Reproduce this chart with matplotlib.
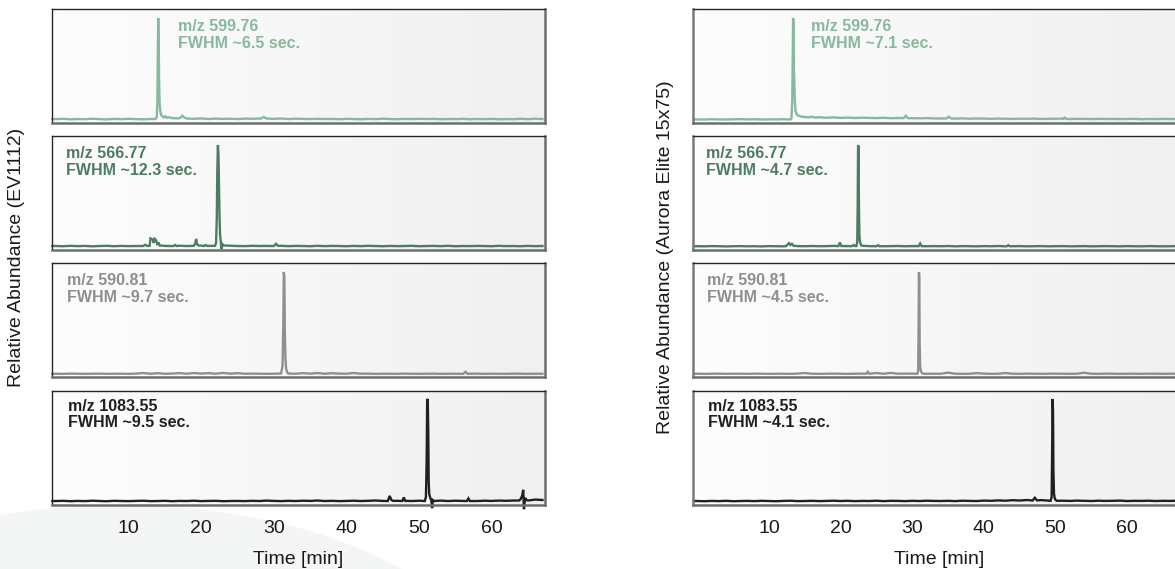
import numpy as np
import matplotlib.pyplot as plt
from matplotlib.colors import LinearSegmentedColormap
from matplotlib.patches import Ellipse

plt.rcParams['font.family'] = ['Liberation Sans', 'DejaVu Sans']

# ---- data: baseline read every minute (t = 0..67), peaks as (time, intensity) ----
# left column: EV1112
ev_599_noise = [0.9, 1.2, 0.7, 1.0, 0.8, 1.3, 0.9, 0.6, 1.1, 0.8, 1.2, 0.9, 0.7, 1.0, 0.9, 2.4, 1.9,
                1.8, 1.5, 1.2, 1.6, 1.0, 1.4, 1.1, 1.3, 0.9, 1.4, 1.2, 1.5, 1.6, 1.2, 1.5, 1.0, 1.3,
                1.1, 0.9, 1.2, 1.0, 1.1, 0.8, 1.2, 1.0, 0.8, 1.1, 0.9, 1.3, 1.0, 0.8, 1.1, 0.9, 1.2,
                1.0, 1.1, 0.8, 1.0, 0.9, 1.2, 0.8, 1.0, 0.9, 1.1, 0.7, 1.0, 0.8, 1.2, 0.9, 1.3, 1.0]
ev_599_peaks = [[(-0.5, 0.9)],
                [(13.7, 1.0), (13.88, 3), (13.97, 20), (14.03, 70), (14.08, 100), (14.14, 80),
                 (14.2, 38), (14.27, 16), (14.36, 9), (14.48, 5), (14.65, 3.5), (14.85, 2.5),
                 (15.05, 3.8), (15.3, 2.2), (15.6, 2.8), (15.9, 2.0)],
                [(16.9, 1.6), (17.2, 2.5), (17.4, 4.2), (17.6, 2.8), (17.9, 1.8)],
                [(28.2, 1.3), (28.6, 3.0), (29.0, 1.5)]]

ev_566_noise = [1.0, 0.8, 1.2, 0.9, 1.1, 0.7, 1.0, 1.2, 0.8, 1.1, 0.9, 1.0, 1.1, 1.2, 1.3, 1.1, 1.0,
                1.3, 1.0, 1.2, 1.4, 1.1, 1.2, 1.1, 1.3, 1.0, 0.9, 1.2, 1.0, 1.1, 1.3, 1.2, 0.9, 1.1,
                1.0, 0.8, 1.2, 0.9, 1.1, 1.0, 0.8, 1.1, 0.9, 1.2, 1.0, 0.8, 1.1, 0.9, 1.0, 1.2, 0.8,
                1.0, 1.1, 0.9, 1.2, 0.8, 1.0, 0.9, 1.1, 1.0, 0.8, 1.2, 0.9, 1.0, 0.8, 1.1, 0.9, 1.0]
ev_566_peaks = [[(-0.5, 1.0)],
                [(12.0, 1.0), (12.3, 2.2), (12.6, 1.0)],
                [(12.9, 1.2), (13.0, 8.5), (13.3, 7.5), (13.45, 4), (13.6, 8), (13.8, 6.5),
                 (13.95, 2), (14.1, 4.5), (14.3, 1.5)],
                [(16.2, 1.0), (16.4, 2.0), (16.6, 1.0)],
                [(19.0, 1.2), (19.2, 4), (19.3, 8), (19.45, 2.5), (19.7, 1.4)],
                [(20.4, 1.0), (20.6, 2.0), (20.8, 1.1)],
                [(21.9, 1.2), (22.05, 4), (22.15, 30), (22.22, 75), (22.3, 100), (22.38, 90),
                 (22.45, 60), (22.52, 30), (22.6, 12), (22.7, 5), (22.8, -2), (22.9, 3), (23.1, 1.5)],
                [(30.0, 1.0), (30.3, 3.2), (30.6, 1.1)]]

ev_590_noise = [0.3, 0.2, 0.4, 0.3, 0.2, 0.3, 0.4, 0.2, 0.3, 0.3, 0.2, 0.4, 1.0, 0.3, 0.8, 0.3, 0.4,
                0.9, 0.3, 1.0, 0.4, 0.9, 0.3, 1.1, 0.4, 0.8, 0.3, 0.4, 0.3, 0.2, 0.3, 0.4, 1.0, 0.3,
                0.9, 0.4, 1.0, 0.3, 0.8, 0.4, 0.3, 1.0, 0.3, 0.4, 0.2, 0.3, 0.3, 0.2, 0.4, 0.3, 0.2,
                0.3, 0.4, 0.2, 0.3, 0.3, 0.2, 0.3, 0.4, 0.2, 0.3, 0.3, 0.2, 0.4, 0.3, 0.2, 0.3, 0.3]
ev_590_peaks = [[(-0.5, 0.3)],
                [(31.0, 0.5), (31.2, 8), (31.3, 45), (31.38, 100), (31.45, 95), (31.52, 40),
                 (31.6, 15), (31.7, 5), (31.85, 1.5), (32.0, 0.5)],
                [(56.1, 0.3), (56.4, 2.2), (56.7, 0.3)]]

ev_1083_noise = [1.0, 1.2, 0.8, 1.1, 0.9, 1.3, 1.0, 0.8, 1.2, 1.0, 0.9, 1.1, 1.3, 0.9, 1.0, 1.2, 0.8,
                 1.1, 1.0, 1.3, 0.9, 1.1, 1.2, 0.8, 1.0, 1.1, 0.9, 1.2, 1.0, 1.4, 1.1, 0.9, 1.2, 1.0,
                 1.3, 1.1, 1.5, 1.0, 1.2, 0.9, 1.1, 1.3, 1.0, 1.2, 1.5, 1.1, 1.6, 1.2, 1.4, 1.0, 1.3,
                 1.2, 1.1, 1.4, 1.0, 1.3, 1.1, 1.2, 1.0, 1.3, 1.1, 1.4, 1.2, 1.5, 2.2, 1.8, 2.4, 2.0]
ev_1083_peaks = [[(-0.5, 1.0)],
                 [(45.7, 1.0), (45.95, 6), (46.2, 2), (46.4, 1.2)],
                 [(47.7, 1.0), (47.9, 4.5), (48.1, 1.2)],
                 [(50.8, 1.0), (50.95, 5), (51.05, 40), (51.12, 100), (51.2, 101), (51.27, 70),
                  (51.33, 20), (51.4, 8), (51.55, 4), (51.7, 1.5), (51.8, -6), (51.9, 2), (52.1, 1)],
                 [(56.6, 1.0), (56.8, 3.5), (57.0, 1.0)],
                 [(63.8, 1.5), (64.0, 3), (64.2, 6), (64.35, 12), (64.45, -7), (64.6, 4),
                  (64.8, 2), (65.0, 1.5)]]

# right column: Aurora Elite 15x75
au_599_noise = [0.6, 0.5, 0.8, 0.6, 0.5, 0.7, 0.9, 0.6, 0.8, 0.5, 0.7, 0.6, 0.8, 0.6, 2.0, 2.0, 2.0,
                2.4, 2.2, 2.6, 2.1, 2.4, 2.0, 2.3, 2.1, 1.9, 2.2, 1.8, 2.0, 1.9, 1.8, 1.7, 1.9, 1.6,
                1.5, 1.7, 1.4, 1.6, 1.3, 1.5, 1.4, 1.2, 1.4, 1.3, 1.1, 1.3, 1.2, 1.4, 1.1, 1.2, 1.3,
                1.4, 1.0, 1.2, 1.1, 0.9, 1.2, 1.0, 1.1, 0.9, 1.0, 1.2, 0.8, 1.0, 0.9, 1.1, 1.0, 0.9]
au_599_peaks = [[(-0.5, 0.6)],
                [(13.0, 0.5), (13.15, 2), (13.25, 20), (13.32, 60), (13.37, 100), (13.43, 95),
                 (13.48, 50), (13.53, 40), (13.6, 20), (13.7, 9), (13.85, 6), (14.0, 4.5),
                 (14.3, 4), (14.6, 3.2), (15.0, 3.0), (15.5, 2.6), (16.0, 3.2), (16.5, 2.4), (17.0, 2.8)],
                [(28.8, 1.9), (29.1, 4.2), (29.4, 1.8)],
                [(34.8, 1.6), (35.1, 3.2), (35.4, 1.6)],
                [(51.1, 1.2), (51.3, 2.4), (51.5, 1.1)]]

au_566_noise = [0.8, 0.7, 0.9, 0.8, 0.6, 0.8, 0.9, 0.7, 0.8, 0.6, 0.9, 0.8, 0.7, 1.0, 0.9, 0.8, 1.0,
                0.8, 0.9, 1.1, 0.8, 0.9, 0.8, 1.0, 0.9, 1.2, 0.8, 0.9, 1.0, 0.8, 0.9, 0.7, 0.8, 0.9,
                0.8, 1.0, 0.7, 0.9, 0.8, 0.7, 0.9, 0.8, 1.0, 0.7, 0.8, 0.9, 0.7, 0.8, 0.9, 0.7, 0.8,
                0.9, 0.7, 0.8, 0.9, 0.7, 0.8, 0.9, 0.8, 0.7, 0.9, 0.8, 0.7, 0.9, 0.8, 0.7, 0.8, 0.9]
au_566_peaks = [[(-0.5, 0.8)],
                [(12.4, 0.9), (12.6, 2.5), (12.8, 3.8), (13.0, 2.0), (13.2, 3.2), (13.45, 1.2)],
                [(19.7, 0.9), (19.9, 4.5), (20.1, 1.0)],
                [(21.6, 0.9), (21.8, 2.0), (22.0, 1.0)],
                [(22.2, 1.0), (22.32, 5), (22.38, 40), (22.44, 100), (22.5, 98), (22.56, 40),
                 (22.62, 12), (22.7, 5), (22.8, 3), (22.9, 1.5), (23.1, 1.2)],
                [(25.0, 0.8), (25.2, 1.8), (25.4, 0.8)],
                [(30.9, 0.9), (31.1, 3.5), (31.3, 0.9)],
                [(43.2, 0.8), (43.4, 1.8), (43.6, 0.8)]]

au_590_noise = [0.3, 0.2, 0.3, 0.4, 0.2, 0.3, 0.3, 0.2, 0.4, 0.3, 0.2, 0.3, 0.3, 0.2, 0.4, 1.0, 0.3,
                0.2, 0.3, 0.4, 0.3, 0.2, 0.3, 0.4, 0.3, 1.0, 0.3, 1.1, 0.3, 0.4, 0.4, 0.3, 0.2, 0.3,
                0.3, 1.4, 0.3, 0.2, 0.3, 0.9, 0.4, 0.2, 0.3, 1.0, 0.3, 0.2, 0.4, 0.3, 0.2, 0.3, 0.4,
                0.3, 0.2, 0.3, 1.3, 0.3, 0.2, 0.4, 0.3, 0.2, 0.3, 0.3, 0.2, 0.4, 0.3, 0.2, 0.3, 0.3]
au_590_peaks = [[(-0.5, 0.3)],
                [(23.6, 0.3), (23.8, 2.2), (24.0, 0.3)],
                [(30.7, 0.3), (30.82, 3), (30.88, 40), (30.93, 100), (30.98, 95), (31.03, 30),
                 (31.1, 8), (31.2, 3), (31.35, 1), (31.5, 0.4)]]

au_1083_noise = [1.0, 0.8, 1.1, 0.9, 1.2, 0.8, 1.0, 1.1, 0.9, 1.2, 1.0, 0.8, 1.1, 1.3, 0.9, 1.0, 1.2,
                 0.9, 1.1, 1.3, 1.0, 1.2, 0.9, 1.1, 1.0, 1.3, 0.9, 1.2, 1.1, 0.9, 1.2, 1.0, 1.3, 1.1,
                 1.0, 1.2, 0.9, 1.3, 1.1, 1.0, 1.4, 1.2, 1.6, 1.3, 1.8, 1.5, 2.0, 1.6, 1.9, 1.4, 1.2,
                 1.3, 1.1, 1.4, 1.2, 1.0, 1.3, 1.1, 1.2, 1.4, 1.0, 1.2, 1.1, 1.3, 1.0, 1.2, 1.1, 1.3]
au_1083_peaks = [[(-0.5, 1.0)],
                 [(46.8, 1.5), (47.1, 4.2), (47.4, 1.6)],
                 [(49.3, 1.2), (49.45, 5), (49.52, 50), (49.58, 101), (49.64, 90), (49.7, 30),
                  (49.78, 8), (49.9, 3), (50.05, 1.8), (50.2, 1.2)]]

mz_labels = ['m/z 599.76', 'm/z 566.77', 'm/z 590.81', 'm/z 1083.55']
fwhm_ev = ['FWHM ~6.5 sec.', 'FWHM ~12.3 sec.', 'FWHM ~9.7 sec.', 'FWHM ~9.5 sec.']
fwhm_au = ['FWHM ~7.1 sec.', 'FWHM ~4.7 sec.', 'FWHM ~4.5 sec.', 'FWHM ~4.1 sec.']
tick_vals = [10, 20, 30, 40, 50, 60]

colors = ['#88b89d', '#4e7c61', '#8f8f8f', '#202020']


def build_trace(noise, features):
    # baseline minutes covered by a feature are replaced by the feature's points
    spans = [(f[0][0], f[-1][0]) for f in features]
    pts = [(t, v) for t, v in enumerate(noise)
           if not any(a <= t <= b for a, b in spans)]
    for f in features:
        pts += f
    pts.sort()
    return np.array(pts).T


W, H = 1175, 569
fig = plt.figure(figsize=(W / 100, H / 100), dpi=100)

# faint decorative shape in the lower left
fig.add_artist(Ellipse((120 / W, 1 - 700 / H), 760 / W, 390 / H,
                       transform=fig.transFigure, color='#f4f6f6', zorder=-5, lw=0))

grad = LinearSegmentedColormap.from_list('bg', ['#fdfdfd', '#f0f0f0'])
tops = [9, 136, 263, 391]
ph = 114

columns = [
    dict(x0=52, xlim=(-0.55, 67.35),
         traces=[(ev_599_noise, ev_599_peaks), (ev_566_noise, ev_566_peaks),
                 (ev_590_noise, ev_590_peaks), (ev_1083_noise, ev_1083_peaks)],
         fwhm=fwhm_ev, tx=[0.256, 0.028, 0.030, 0.033],
         ylabel='Relative Abundance (EV1112)', ylx=17, left_col='#262626'),
    dict(x0=693, xlim=(-0.6, 68.2),
         traces=[(au_599_noise, au_599_peaks), (au_566_noise, au_566_peaks),
                 (au_590_noise, au_590_peaks), (au_1083_noise, au_1083_peaks)],
         fwhm=fwhm_au, tx=[0.239, 0.026, 0.029, 0.031],
         ylabel='Relative Abundance (Aurora Elite 15x75)', ylx=666, left_col='#7a7a7a'),
]

for col in columns:
    for i in range(4):
        ax = fig.add_axes([col['x0'] / W, 1 - (tops[i] + ph) / H, 493 / W, ph / H])
        ax.imshow(np.linspace(0, 1, 64).reshape(1, -1), cmap=grad, aspect='auto',
                  extent=(0, 1, 0, 1), transform=ax.transAxes, zorder=0)
        t, y = build_trace(*col['traces'][i])
        ax.plot(t, y, color=colors[i], lw=1.7, zorder=2, clip_on=False,
                solid_joinstyle='miter')
        ax.set_xlim(*col['xlim'])
        ax.set_ylim(-2.9, 108.8)
        ax.set_yticks([])
        ax.set_xticks(tick_vals)
        ax.tick_params(axis='x', length=0, pad=11, labelsize=14, colors='#1a1a1a')
        if i < 3:
            ax.set_xticklabels([])
        ax.spines['top'].set_color('#262626')
        ax.spines['top'].set_linewidth(1.0)
        ax.spines['left'].set_color(col['left_col'])
        ax.spines['left'].set_linewidth(1.0 if col['left_col'] == '#262626' else 1.8)
        for s in ['right', 'bottom']:
            ax.spines[s].set_color('#6e6e6e')
            ax.spines[s].set_linewidth(1.8)
        ty = 0.934 if i == 3 else 0.908
        ax.text(col['tx'][i], ty, mz_labels[i] + '\n' + col['fwhm'][i],
                transform=ax.transAxes, ha='left', va='top', fontsize=11.5,
                fontweight='bold', color=colors[i], linespacing=1.15, zorder=3)
        if i == 3:
            fig.text((col['x0'] + 246) / W, 1 - 560 / H, 'Time [min]',
                     ha='center', va='center', fontsize=14, color='#1a1a1a')
    fig.text(col['ylx'] / W, 1 - 257 / H, col['ylabel'], rotation=90,
             ha='center', va='center', fontsize=14, color='#1a1a1a')

fig.savefig('out.png', dpi=100)
